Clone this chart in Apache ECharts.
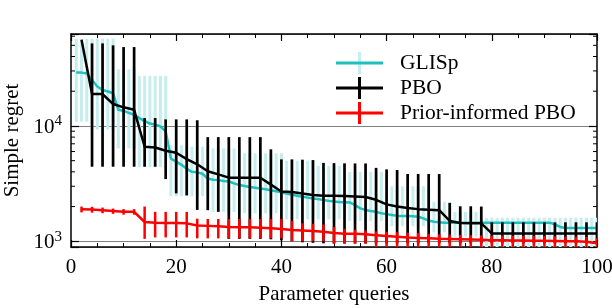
<!DOCTYPE html>
<html><head><meta charset="utf-8">
<script src="https://cdn.jsdelivr.net/npm/echarts@6/dist/echarts.min.js"></script>
<style>html,body{margin:0;padding:0;background:#fff}#c{width:612px;height:308px}</style>
</head><body><div id="c"></div>
<script>
// ---------- data ----------
const glispX = [1,2,3,4,5,6,7,8,9,10,11,12,13,14,15,16,17,18,19,20,
  21,22,23,24,25,26,27,28,29,30,31,32,33,34,35,36,37,38,39,40,
  41,42,43,44,45,46,47,48,49,50,51,52,53,54,55,56,57,58,59,60,
  61,62,63,64,65,66,67,68,69,70,71,72,73,74,75,76,77,78,79,80,
  81,82,83,84,85,86,87,88,89,90,91,92,93,94,95,96,97,98,99,100];
const glispY = [29000,29000,28500,25000,22000,20500,19900,19200,13800,13500,
  13000,12500,11700,11000,10500,10300,9900,9000,5200,4900,
  4600,4250,4000,3960,3850,3500,3420,3390,3330,3300,
  3180,3070,3010,2950,2910,2870,2830,2770,2720,2650,
  2600,2530,2480,2430,2390,2350,2320,2280,2240,2210,
  2190,2180,2170,2060,1930,1870,1830,1800,1750,1720,
  1690,1660,1660,1660,1650,1630,1580,1510,1475,1460,
  1450,1450,1450,1450,1450,1450,1450,1450,1450,1450,
  1450,1450,1450,1450,1450,1450,1450,1450,1450,1450,
  1450,1400,1330,1305,1305,1305,1305,1305,1305,1305];
const glispUpper = [57000,57000,57000,57000,57000,57000,57000,57000,31000,31000,
  31000,31000,27200,27200,27200,27200,27200,27200,6800,6800,
  6800,6600,6600,6600,6600,6600,6400,6400,6400,6400,
  6400,6400,5800,5800,5800,5800,5800,5800,5800,5800,
  5000,5000,5000,5000,5000,5000,4500,4500,4500,4500,
  4500,4500,4000,4000,4000,4000,4000,4000,4000,4000,
  3000,3000,3000,3000,3000,3000,3000,3000,2200,2200,
  2200,2200,1800,1800,1800,1800,1800,1600,1600,1600,
  1600,1600,1600,1600,1600,1600,1600,1600,1600,1600,
  1600,1600,1600,1600,1600,1600,1600,1600,1600,1600];
const glispLower = [10900,10900,10900,9300,9300,9300,9300,9300,6400,6400,
  6400,6400,4400,4400,4400,4400,4400,4400,2450,2450,
  2450,2450,2450,2450,2450,2450,1800,1800,1800,1800,
  1800,1800,1750,1750,1750,1750,1750,1750,1750,1750,
  1550,1550,1550,1550,1550,1550,1550,1550,1550,1550,
  1550,1550,1500,1500,1500,1500,1500,1500,1500,1500,
  1350,1350,1350,1350,1350,1350,1350,1350,1200,1200,
  1200,1200,1100,1100,1100,1100,1100,880,880,880,
  880,880,880,880,880,880,880,880,880,880,
  880,880,880,880,880,880,880,880,880,880];

const pboX = [2,4,6,8,10,12,14,16,18,20,22,24,26,28,30,32,34,36,38,40,
  42,44,46,48,50,52,54,56,58,60,62,64,66,68,70,72,74,76,78,80,
  82,84,86,88,90,92,94,96,98,100];
const pboY = [56000,18900,18900,15500,14500,13800,6600,6500,6100,5850,
  5150,4650,4050,3800,3560,3560,3560,3560,3100,2700,
  2680,2600,2520,2480,2480,2470,2450,2420,2290,2090,
  2000,1940,1900,1880,1860,1500,1440,1430,1430,1170,
  1170,1170,1170,1170,1170,1170,1170,1170,1170,1170];
const pboUpper = [56000,52000,52000,50000,48300,48300,11700,11700,11400,11400,
  11400,11200,8000,8000,8000,8000,8000,8000,6270,5130,
  5130,5100,5060,4780,4760,4740,4730,4730,4330,4200,
  4150,3830,3830,3830,3830,2150,2010,2010,2000,1460,
  1460,1460,1460,1460,1460,1460,1460,1460,1460,1460];
const pboLower = [56000,4430,4430,4430,4430,4430,4430,4430,3460,2600,
  2500,1870,1860,1800,1050,1050,1050,1050,1040,1020,
  1000,980,970,960,960,960,960,960,960,960,
  960,960,960,960,960,960,960,960,960,960,
  960,960,960,960,960,960,960,960,960,960];

const priorX = pboX;
const priorY = [1900,1890,1860,1830,1800,1800,1470,1450,1440,1440,
  1430,1370,1360,1350,1330,1320,1320,1310,1300,1280,
  1250,1240,1230,1210,1180,1160,1160,1150,1130,1110,
  1095,1080,1070,1060,1050,1045,1040,1035,1030,1020,
  1020,1015,1015,1010,1010,1005,1000,1000,990,960];
const priorUpper = [2000,1990,1960,1920,1900,1900,2000,1800,1800,1800,
  1800,1570,1560,1560,1560,1560,1560,1560,1560,1560,
  1500,1430,1420,1400,1330,1280,1260,1240,1220,1210,
  1200,1190,1180,1160,1150,1140,1135,1130,1125,1120,
  1120,1115,1115,1110,1110,1105,1100,1100,1090,1060];
const priorLower = [1780,1770,1750,1730,1700,1700,1050,1080,1080,1080,
  1080,1060,1060,1060,1060,1060,1060,1060,1060,1060,
  1000,1000,1000,1000,950,950,950,950,870,870,
  870,870,870,870,870,870,870,870,870,870,
  870,870,870,870,870,870,870,870,870,850];

const xTicks = [0,20,40,60,80,100];
const yMinorTicks = [2000,3000,4000,5000,6000,7000,8000,9000,20000,30000,40000,50000,60000];
const seriesNames = ['GLISp','PBO','Prior-informed PBO'];

// ---------- styles ----------
const FONT = "'Liberation Serif','DejaVu Serif',serif";
const CYAN = '#1dbfbf', CYAN_LIGHT = '#c6eeee', BLACK = '#000000', RED = '#ff0000';

function pts(xs, ys){ return xs.map((x,i)=>[x, ys[i]]); }
function bars(xs, lo, hi){ return xs.map((x,i)=>[x, lo[i], hi[i]]); }
function errBar(color, width){
  return function(params, api){
    const x = api.value(0), lo = api.value(1), hi = api.value(2);
    const a = api.coord([x, lo]), b = api.coord([x, hi]);
    return {type:'line', shape:{x1:a[0], y1:a[1], x2:b[0], y2:b[1]},
      style:{stroke:color, lineWidth:width, lineCap:'butt'}};
  };
}
function icon(hColor, vColor){
  const svg = '<svg xmlns="http://www.w3.org/2000/svg" width="59" height="22" viewBox="0 0 59 22">' +
    '<rect x="22" y="0" width="3" height="22" fill="' + vColor + '"/>' +
    '<rect x="0" y="9.5" width="47" height="3" fill="' + hColor + '"/></svg>';
  return 'image://data:image/svg+xml;charset=utf-8,' + encodeURIComponent(svg);
}

const chart = echarts.init(document.getElementById('c'), null, {renderer:'canvas'});
const xCommon = {
  type:'value', min:xTicks[0], max:xTicks[xTicks.length-1], interval:20,
  axisLine:{show:true, onZero:false, lineStyle:{color:'#000', width:1.5}},
  axisTick:{show:true, inside:true, length:7, lineStyle:{color:'#000', width:1.2}},
  minorTick:{show:true, splitNumber:4, length:4, lineStyle:{color:'#000', width:1}},
  splitLine:{show:false}
};
const yCommon = {
  type:'log', logBase:10, min:892, max:62700,
  axisLine:{show:true, onZero:false, lineStyle:{color:'#000', width:1.5}},
  axisTick:{show:true, inside:true, length:8, lineStyle:{color:'#000', width:1.2}},
  minorTick:{show:false}
};
function isPow(v){ const l = Math.log10(v); return Math.abs(l - Math.round(l)) < 1e-6; }

chart.setOption({
  animation:false,
  backgroundColor:'#fff',
  grid:{left:71, right:15, top:34, bottom:61, containLabel:false, outerBoundsMode:'none'},
  legend:{
    selectedMode:false, orient:'vertical', left:336, top:52, padding:0,
    itemWidth:59, itemHeight:22, itemGap:3,
    textStyle:{fontFamily:FONT, fontSize:21.5, color:'#000', lineHeight:22},
    data:[
      {name:seriesNames[0], icon:icon(CYAN, CYAN_LIGHT)},
      {name:seriesNames[1], icon:icon(BLACK, BLACK)},
      {name:seriesNames[2], icon:icon(RED, RED)}
    ]
  },
  xAxis:[
    Object.assign({}, xCommon, {position:'bottom',
      axisLabel:{show:true, margin:10, fontFamily:FONT, fontSize:21, color:'#000'},
      name:'Parameter queries', nameLocation:'middle', nameGap:37,
      nameTextStyle:{fontFamily:FONT, fontSize:21, color:'#000'}}),
    Object.assign({}, xCommon, {position:'top', axisLabel:{show:false}})
  ],
  yAxis:[
    Object.assign({}, yCommon, {position:'left',
      splitLine:{show:true, lineStyle:{color:'#808080', width:1}},
      axisLabel:{show:true, margin:9, color:'#000',
        formatter:function(v){ if(!isPow(v)) return ''; return '{b|10}{s|' + Math.round(Math.log10(v)) + '}'; },
        rich:{
          b:{fontFamily:FONT, fontSize:21, color:'#000', verticalAlign:'bottom'},
          s:{fontFamily:FONT, fontSize:15, color:'#000', verticalAlign:'bottom', padding:[0,0,9,0]}
        }},
      name:'Simple regret', nameLocation:'middle', nameGap:48,
      nameTextStyle:{fontFamily:FONT, fontSize:21, color:'#000'}}),
    Object.assign({}, yCommon, {position:'right', axisLabel:{show:false}, splitLine:{show:false}})
  ],
  series:[
    {type:'custom', name:'GLISp err', data:bars(glispX, glispLower, glispUpper),
      encode:{x:0, y:[1,2]}, renderItem:errBar(CYAN_LIGHT, 3), clip:true, silent:true, z:2},
    {type:'line', name:seriesNames[0], data:pts(glispX, glispY), showSymbol:false, symbol:'none',
      lineStyle:{color:CYAN, width:2.5}, itemStyle:{color:CYAN}, clip:true, silent:true, z:3},
    {type:'custom', name:'PBO err', data:bars(pboX, pboLower, pboUpper),
      encode:{x:0, y:[1,2]}, renderItem:errBar(BLACK, 2.7), clip:true, silent:true, z:4},
    {type:'line', name:seriesNames[1], data:pts(pboX, pboY), showSymbol:false, symbol:'none',
      lineStyle:{color:BLACK, width:2.5}, itemStyle:{color:BLACK}, clip:true, silent:true, z:5},
    {type:'custom', name:'Prior err', data:bars(priorX, priorLower, priorUpper),
      encode:{x:0, y:[1,2]}, renderItem:errBar(RED, 2.5), clip:true, silent:true, z:6},
    {type:'line', name:seriesNames[2], data:pts(priorX, priorY), showSymbol:false, symbol:'none',
      lineStyle:{color:RED, width:2.5}, itemStyle:{color:RED}, clip:true, silent:true, z:7},
    {type:'custom', name:'minor y ticks', data:yMinorTicks.map(v=>[0, v]),
      encode:{x:0, y:1}, silent:true, z:10,
      renderItem:function(params, api){
        const v = api.value(1);
        const l = api.coord([xTicks[0], v]), r = api.coord([xTicks[xTicks.length-1], v]);
        return {type:'group', children:[
          {type:'line', shape:{x1:l[0], y1:l[1], x2:l[0]+4, y2:l[1]}, style:{stroke:'#000', lineWidth:1}},
          {type:'line', shape:{x1:r[0], y1:r[1], x2:r[0]-4, y2:r[1]}, style:{stroke:'#000', lineWidth:1}}
        ]};
      }}
  ]
});
</script></body></html>
